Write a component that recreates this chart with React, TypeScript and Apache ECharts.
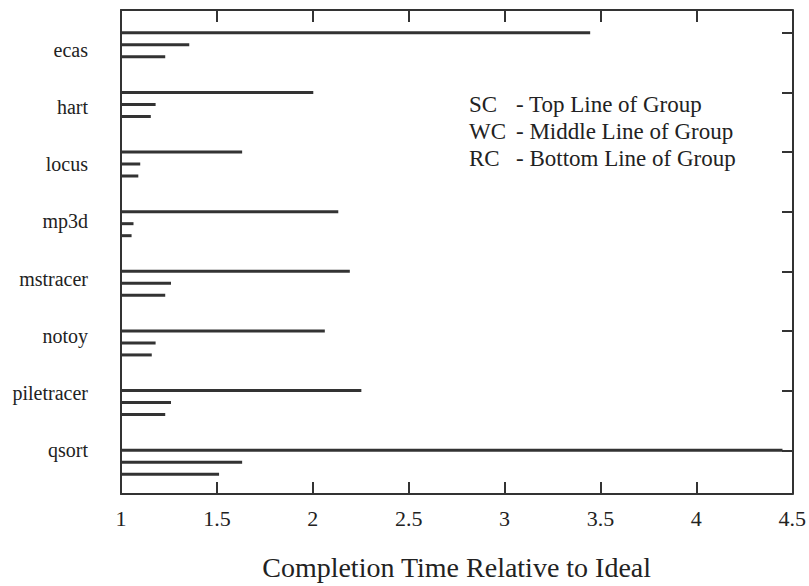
import React, { useEffect, useRef } from "react";
import * as echarts from "echarts";

const categories = ["ecas", "hart", "locus", "mp3d", "mstracer", "notoy", "piletracer", "qsort"];
const scValues = [3.44, 2.0, 1.63, 2.13, 2.19, 2.06, 2.25, 4.44];
const wcValues = [1.355, 1.18, 1.1, 1.065, 1.26, 1.18, 1.26, 1.63];
const rcValues = [1.23, 1.155, 1.09, 1.055, 1.23, 1.16, 1.23, 1.51];
const seriesNames = ["SC", "WC", "RC"];
const legendKeys = ["SC", "WC", "RC"];
const legendDescs = ["- Top Line of Group", "- Middle Line of Group", "- Bottom Line of Group"];
const xMin = 1;
const xMax = 4.5;
const xInterval = 0.5;
const axisTitle = "Completion Time Relative to Ideal";

const FONT = "'Liberation Serif', 'Times New Roman', serif";
const INK = "#333";

export default function App() {
  const ref = useRef<HTMLDivElement>(null);
  useEffect(() => {
    if (!ref.current) return;
    const chart = echarts.init(ref.current, null, { renderer: "svg" });
    const frameAxisLine = { show: true, onZero: false, lineStyle: { color: INK, width: 2 } };
    const frameTick = { show: true, inside: true, length: 12, lineStyle: { color: INK, width: 2 } };
    const option: any = {
      animation: false,
      backgroundColor: "#fff",
      grid: [
        { left: 121, right: 15, top: 10, bottom: 89 },
        { left: 121, right: 15, top: 15, bottom: 94 },
        { left: 121, right: 15, top: 21, bottom: 107 },
      ],
      xAxis: [
        {
          type: "value", gridIndex: 0, position: "bottom", min: xMin, max: xMax, interval: xInterval,
          axisLine: frameAxisLine,
          axisTick: frameTick,
          axisLabel: { show: true, fontFamily: FONT, fontSize: 22, color: "#222", margin: 13 },
          splitLine: { show: false },
          name: axisTitle, nameLocation: "middle", nameGap: 59,
          nameTextStyle: { fontFamily: FONT, fontSize: 28, color: "#222" },
        },
        {
          type: "value", gridIndex: 0, position: "top", min: xMin, max: xMax, interval: xInterval,
          axisLine: frameAxisLine,
          axisTick: frameTick,
          axisLabel: { show: false },
          splitLine: { show: false },
        },
        {
          type: "value", gridIndex: 1, min: xMin, max: xMax, show: false,
          axisLine: { onZero: false },
          splitLine: { show: false },
        },
        {
          type: "value", gridIndex: 2, min: xMin, max: xMax, show: false,
          axisLine: { onZero: false },
          splitLine: { show: false },
        },
      ],
      yAxis: [
        {
          type: "value", gridIndex: 0, position: "left", min: 0, max: 1,
          axisLine: frameAxisLine, axisTick: { show: false }, axisLabel: { show: false },
          splitLine: { show: false },
        },
        {
          type: "value", gridIndex: 0, position: "right", min: 0, max: 1,
          axisLine: frameAxisLine, axisTick: { show: false }, axisLabel: { show: false },
          splitLine: { show: false },
        },
        {
          type: "category", gridIndex: 1, position: "left", inverse: true, data: categories,
          axisLine: { show: false, onZero: false }, axisTick: { show: false },
          axisLabel: { show: false },
          splitLine: { show: false },
        },
        {
          type: "value", gridIndex: 1, position: "right", inverse: true, min: -0.5, max: 7.5,
          axisLine: { show: false, onZero: false },
          axisTick: {
            show: true, inside: true, length: 12,
            customValues: categories.map((_, i) => i - 0.2),
            lineStyle: { color: INK, width: 2 },
          },
          axisLabel: { show: false },
          splitLine: { show: false },
        },
        {
          type: "category", gridIndex: 2, position: "left", inverse: true, data: categories,
          axisLine: { show: false, onZero: false }, axisTick: { show: false },
          axisLabel: { fontFamily: FONT, fontSize: 20, color: "#222", margin: 33 },
          splitLine: { show: false },
        },
      ],
      series: [scValues, wcValues, rcValues].map((vals, k) => ({
        name: seriesNames[k],
        type: "bar",
        xAxisIndex: 2,
        yAxisIndex: 2,
        data: vals,
        barWidth: 3,
        barGap: "300%",
        itemStyle: { color: INK },
        silent: true,
      })),
      graphic: [
        ...legendKeys.map((k, i) => ({
          type: "text", left: 469, top: 93 + i * 27,
          style: { text: k, font: `23px ${FONT}`, fill: "#222" },
        })),
        ...legendDescs.map((d, i) => ({
          type: "text", left: 516, top: 93 + i * 27,
          style: { text: d, font: `23px ${FONT}`, fill: "#222" },
        })),
      ],
    };
    chart.setOption(option);
    return () => chart.dispose();
  }, []);
  return (
    <div
      ref={ref}
      style={{ position: "fixed", left: 0, top: 0, width: 809, height: 586, background: "#fff" }}
    />
  );
}
